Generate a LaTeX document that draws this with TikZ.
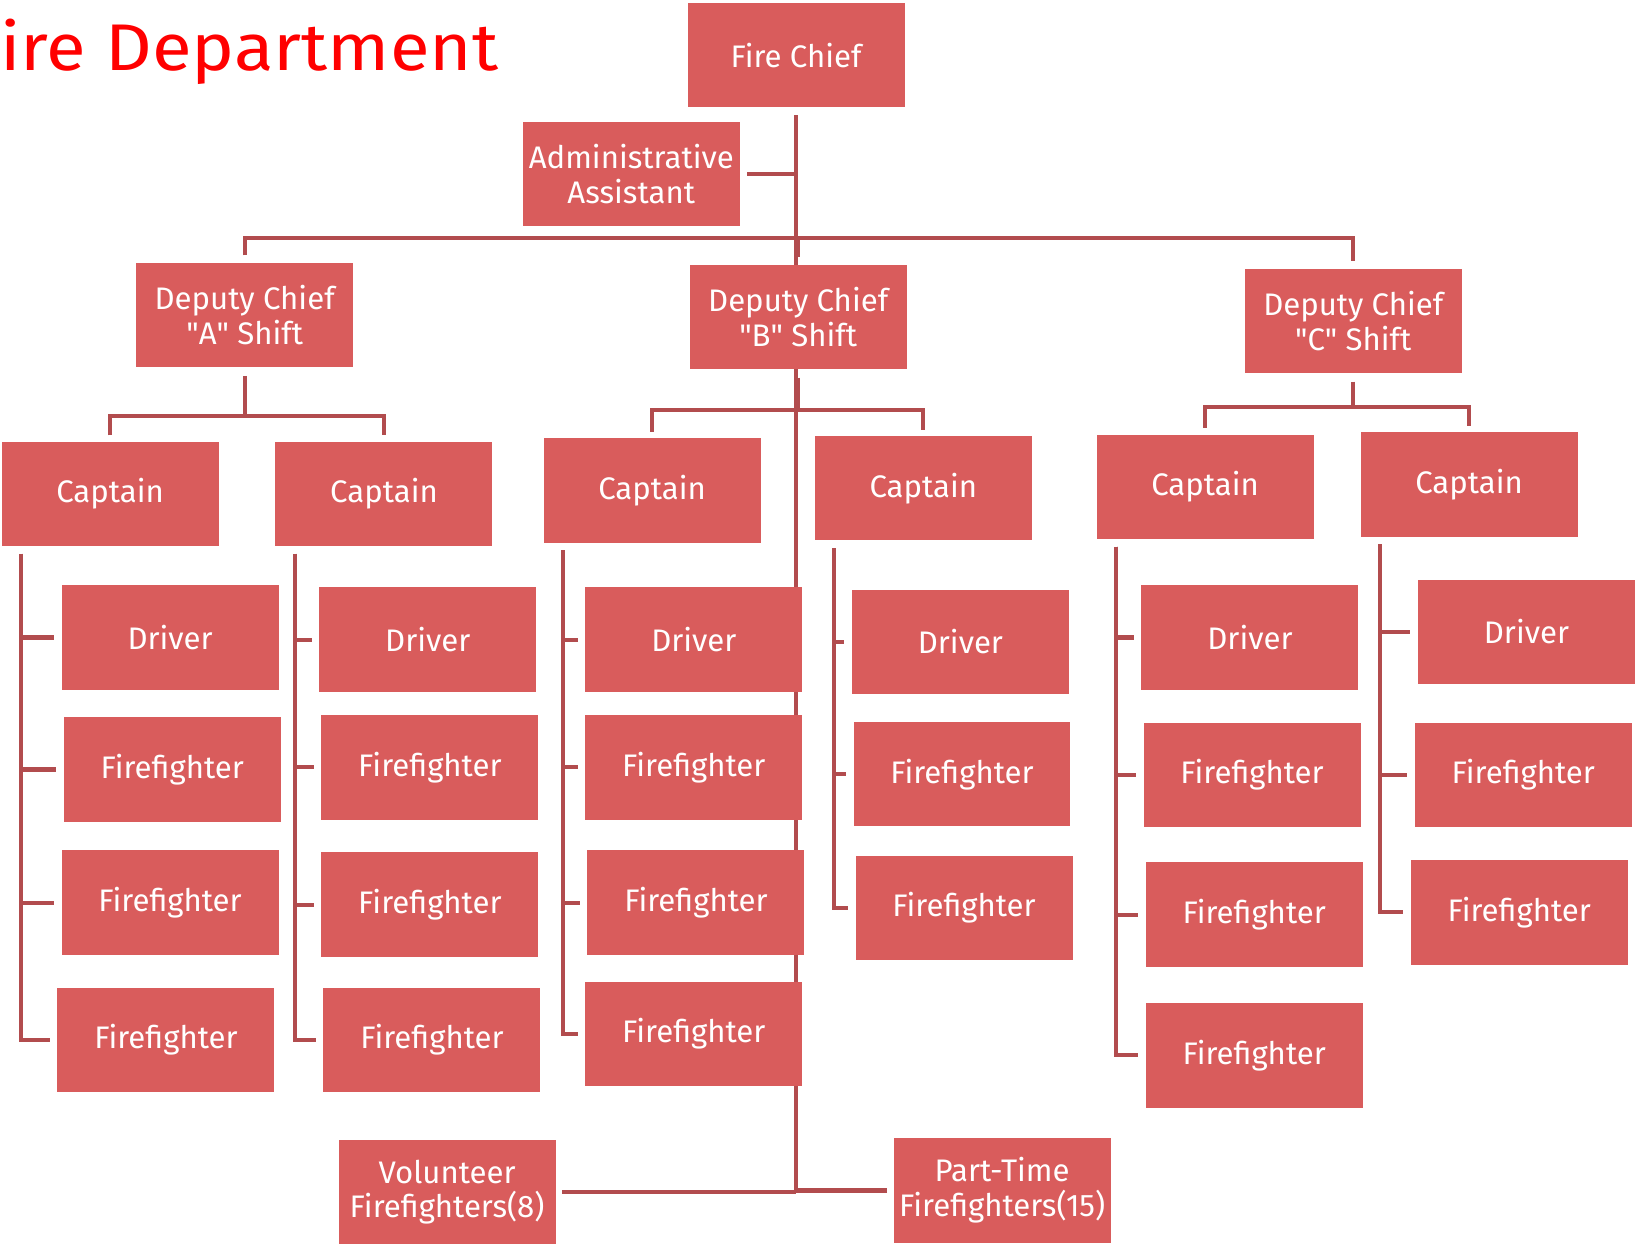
\documentclass[tikz,border=0pt]{standalone}
\usepackage{fontspec}
\setmainfont{Fira Sans}
\newfontfamily\titlefont[FakeStretch=1.1]{Fira Sans}
\usetikzlibrary{positioning, backgrounds, calc}
\definecolor{boxred}{RGB}{217,92,92}
\definecolor{linkred}{RGB}{178,76,78}
\definecolor{titlered}{RGB}{255,0,0}

\begin{document}
\begin{tikzpicture}[
                x=0.02cm, y=-0.02cm,
                box/.style={rectangle, fill=boxred, text=white, align=center,
                            minimum width=4.16cm, minimum height=2cm, inner sep=0pt,
                            font=\fontsize{17}{19}\selectfont},
                link/.style={draw=linkred, line width=2.2pt},
            ]
                \useasboundingbox (0,0) rectangle (1568,1193);

                % Title
                \node[anchor=base west, inner sep=0pt, text=titlered,
                      font=\titlefont\fontsize{36}{40}\selectfont] (title) at (0,68) {ire Department};

                % Top of the chart
                \node[box] (chief) at (763,53) {Fire Chief};
                \node[box] (admin) at (605,167) {Administrative\\Assistant};
                \node[box] (depA) at (234.5,302) {Deputy Chief\\\textquotedbl A\textquotedbl\ Shift};
                \node[box] (depB) at (765,303.5) {Deputy Chief\\\textquotedbl B\textquotedbl\ Shift};
                \node[box] (depC) at (1297,307.5) {Deputy Chief\\\textquotedbl C\textquotedbl\ Shift};

                % Captains
                \node[box] (capA1) at (105.5,473.5) {Captain};
                \node[box] (capA2) at (368,473.5) {Captain};
                \node[box] (capB1) at (625,470) {Captain};
                \node[box] (capB2) at (885,468) {Captain};
                \node[box] (capC1) at (1155,466.5) {Captain};
                \node[box] (capC2) at (1408,464.5) {Captain};

                % Crews
                \node[box] (drvA1) at (163,611) {Driver};
                \node[box] (ffA1a) at (165,737.5) {Firefighter};
                \node[box] (ffA1b) at (163,865) {Firefighter};
                \node[box] (ffA1c) at (159,996.5) {Firefighter};

                \node[box] (drvA2) at (410,613) {Driver};
                \node[box] (ffA2a) at (412,735.5) {Firefighter};
                \node[box] (ffA2b) at (412,867) {Firefighter};
                \node[box] (ffA2c) at (414,996.5) {Firefighter};

                \node[box] (drvB1) at (665,613) {Driver};
                \node[box] (ffB1a) at (665,735.5) {Firefighter};
                \node[box] (ffB1b) at (667,865) {Firefighter};
                \node[box] (ffB1c) at (665,991) {Firefighter};

                \node[box] (drvB2) at (920.5,615) {Driver};
                \node[box] (ffB2a) at (922,742) {Firefighter};
                \node[box] (ffB2b) at (924,870) {Firefighter};

                \node[box] (drvC1) at (1198,611) {Driver};
                \node[box] (ffC1a) at (1200,742.5) {Firefighter};
                \node[box] (ffC1b) at (1202,876.5) {Firefighter};
                \node[box] (ffC1c) at (1202,1011.5) {Firefighter};

                \node[box] (drvC2) at (1463,605.5) {Driver};
                \node[box] (ffC2a) at (1460,742.5) {Firefighter};
                \node[box] (ffC2b) at (1456,874.5) {Firefighter};

                % Volunteers and part-timers
                \node[box] (vol) at (428.5,1142.5) {Volunteer\\Firefighters(8)};
                \node[box] (part) at (960.5,1141) {Part-Time\\Firefighters(15)};

                \begin{scope}[on background layer]
                    % main spine
                    \draw[link] ([yshift=-0.14cm]chief.south) -- (chief.south |- vol.east);
                    \draw[link] ([xshift=0.14cm]admin.east) -- (admin.east -| chief.south);
                    \draw[link] ([xshift=0.12cm]vol.east) -- (vol.east -| chief.south);
                    \draw[link] ([xshift=-0.12cm]part.west) -- (part.west -| chief.south);

                    % chief to deputies
                    \coordinate (jc) at ([yshift=-2.5cm]chief.south);
                    \draw[link] ([yshift=0.14cm]depA.north) |- (jc) -| ([yshift=0.14cm]depC.north);
                    \draw[link] ([yshift=0.14cm]depB.north) -- (depB.north |- jc);

                    % deputies to captains
                    \foreach \d/\l/\r/\h in {depA/capA1/capA2/38, depB/capB1/capB2/31, depC/capC1/capC2/24} {
                        \draw[link] ([yshift=-0.16cm]\d.south) -- ++(0,\h) coordinate (j\d);
                        \draw[link] ([yshift=0.12cm]\l.north) |- (j\d) -| ([yshift=0.12cm]\r.north);
                    }

                    % captains to crews
                    \foreach \c/\m in {capA1/drvA1, capA1/ffA1a, capA1/ffA1b, capA1/ffA1c,
                                       capA2/drvA2, capA2/ffA2a, capA2/ffA2b, capA2/ffA2c,
                                       capB1/drvB1, capB1/ffB1a, capB1/ffB1b, capB1/ffB1c,
                                       capB2/drvB2, capB2/ffB2a, capB2/ffB2b,
                                       capC1/drvC1, capC1/ffC1a, capC1/ffC1b, capC1/ffC1c,
                                       capC2/drvC2, capC2/ffC2a, capC2/ffC2b} {
                        \draw[link] ([xshift=0.38cm, yshift=-0.14cm]\c.south west) |- ([xshift=-0.14cm]\m.west);
                    }
                \end{scope}
            \end{tikzpicture}
\end{document}
